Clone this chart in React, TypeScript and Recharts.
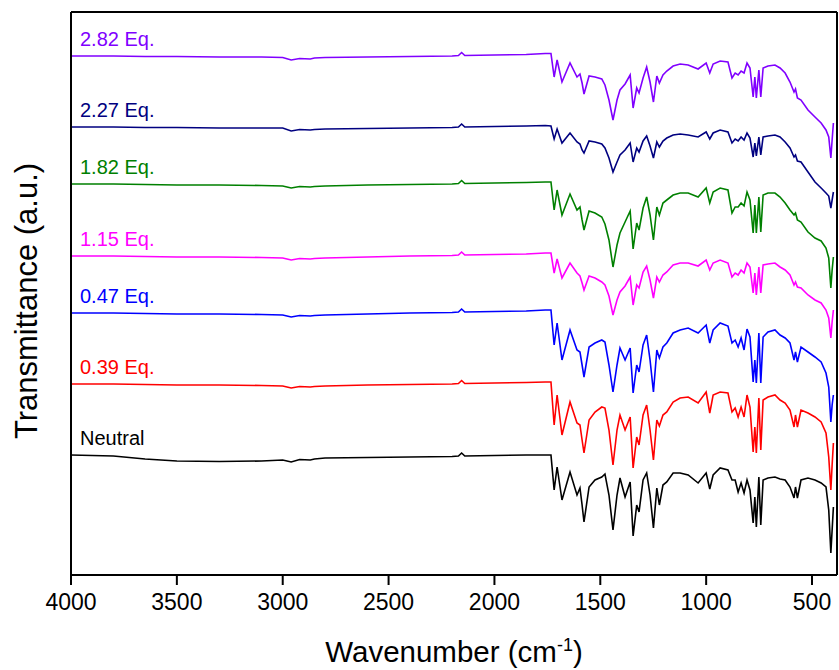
import { LineChart, Line, XAxis, YAxis, ReferenceLine } from "recharts";

// wavenumber grid (cm-1), shared by all spectra
const wavenumbers = [
  4000, 3800, 3650, 3500, 3300, 3100, 3000, 2960, 2920, 2870, 2850, 2800, 2600, 2400, 2200, 2170, 2155, 2140, 2000, 1850, 1760,
  1733, 1718, 1704, 1681, 1643, 1610, 1596, 1586, 1577, 1553, 1525, 1493, 1478, 1459, 1440, 1421, 1407, 1383, 1359, 1345,
  1328, 1317, 1298, 1281, 1265, 1249, 1233, 1221, 1204, 1186, 1156, 1123, 1085, 1038, 1000, 983, 967, 934, 897, 878,
  863, 849, 835, 821, 807, 793, 778, 770, 763, 751, 742, 731, 708, 675, 651, 627, 604, 585, 578, 569,
  552, 519, 486, 457, 434, 421, 411, 405, 399,
];

// stacked transmittance (a.u., offset per spectrum)
const neutral = [
  145, 144, 141, 139, 138.5, 139, 140, 138, 140.5, 140, 141, 142, 142.5, 143, 143.5, 144, 147, 144, 144.5, 145, 145,
  145, 110, 133, 100, 128, 105, 112, 95, 78, 113, 120, 123, 126, 105, 70, 105, 122, 103, 118, 64,
  95, 88, 120, 127, 105, 72, 112, 95, 115, 118, 127, 127, 125, 117, 127, 111, 125, 132, 130, 120,
  120, 108, 117, 107, 120, 110, 77, 103, 73, 123, 75, 120, 122, 123, 121, 120, 113, 102, 113, 102,
  120, 122, 120, 117, 113, 90, 47, 70, 93,
];
const eq039 = [
  216, 216, 215.5, 215, 215, 214.5, 214, 212, 213.5, 213, 213.5, 214, 215, 215.5, 216, 216.5, 219.5, 216.5, 217, 217.5, 218,
  218, 175, 205, 165, 198, 177, 175, 160, 147, 180, 188, 193, 192, 170, 135, 170, 185, 170, 183, 132,
  163, 155, 185, 195, 170, 140, 180, 174, 185, 188, 198, 202, 203, 197, 208, 187, 205, 208, 207, 188,
  192, 183, 193, 183, 205, 193, 148, 173, 147, 202, 150, 200, 203, 205, 200, 197, 190, 173, 185, 173,
  190, 187, 183, 178, 167, 143, 110, 135, 157,
];
const eq047 = [
  287, 287, 286.5, 286, 286, 285.5, 285, 283, 284.5, 284, 284.5, 285, 286, 287, 287.5, 288, 291, 288, 288.5, 289, 290,
  290, 255, 277, 240, 270, 250, 248, 235, 223, 253, 257, 260, 258, 235, 208, 235, 252, 240, 252, 207,
  235, 228, 255, 265, 240, 208, 250, 242, 253, 257, 267, 270, 272, 267, 275, 257, 270, 277, 274, 257,
  260, 253, 262, 250, 271, 263, 218, 240, 217, 267, 217, 263, 268, 270, 265, 262, 257, 240, 248, 238,
  253, 248, 243, 238, 227, 213, 178, 195, 205,
];
const eq115 = [
  344, 344, 343.5, 343, 343, 342.5, 342, 340, 341.5, 341, 341.5, 342, 343, 344, 344.5, 345, 348, 345, 345.5, 346, 347,
  347, 327, 341, 322, 337, 327, 324, 317, 310, 324, 322, 318, 315, 304, 285, 300, 308, 314, 323, 295,
  315, 312, 328, 334, 320, 302, 323, 318, 325, 328, 335, 337, 337, 334, 340, 330, 337, 340, 337, 323,
  327, 325, 330, 327, 337, 333, 307, 327, 305, 333, 307, 335, 336, 337, 333, 330, 325, 315, 318, 313,
  312, 305, 300, 297, 290, 282, 262, 278, 290,
];
const eq182 = [
  416, 416, 415.5, 415, 415, 414.5, 414, 412, 413.5, 413, 413.5, 414, 415, 415.5, 416, 416.5, 419.5, 416.5, 417, 417.5, 418,
  418, 390, 410, 385, 406, 390, 393, 380, 370, 389, 387, 383, 376, 360, 333, 355, 367, 378, 389, 351,
  377, 370, 392, 403, 385, 360, 393, 385, 397, 400, 405, 407, 407, 403, 412, 397, 408, 412, 410, 387,
  393, 393, 397, 394, 408, 400, 367, 395, 367, 403, 368, 405, 407, 407, 403, 397, 390, 385, 387, 380,
  378, 368, 362, 359, 352, 342, 312, 330, 343,
];
const eq227 = [
  473, 473, 472.5, 472.5, 472, 472, 472, 469, 470.5, 470, 470.5, 471, 471.5, 472, 472.5, 473, 476, 473, 473.5, 474, 474.5,
  474, 461, 471, 457, 467, 458, 456, 450, 447, 459, 458, 456, 452, 442, 428, 438, 445, 450, 457, 438,
  452, 448, 459, 464, 454, 442, 458, 453, 459, 462, 465, 466, 465, 463, 468, 461, 467, 470, 468, 457,
  461, 459, 463, 460, 467, 462, 443, 457, 444, 463, 445, 463, 464, 465, 463, 458, 452, 443, 445, 439,
  438, 428, 418, 412, 407, 404, 392, 400, 408,
];
const eq282 = [
  544, 544, 543.5, 543.5, 543, 543, 542.5, 540, 541.5, 541, 542, 542.5, 543, 543.5, 544, 544.5, 547.5, 544.5, 545, 545.5, 546.5,
  546.5, 523, 540, 518, 537, 523, 526, 517, 506, 524, 523, 521, 515, 500, 480, 500, 510, 516, 525, 492,
  512, 507, 522, 533, 518, 498, 524, 517, 525, 529, 534, 536, 535, 531, 537, 527, 536, 539, 538, 522,
  527, 525, 529, 527, 537, 532, 503, 523, 502, 530, 503, 532, 534, 535, 532, 527, 518, 508, 511, 502,
  500, 490, 483, 477, 470, 463, 442, 460, 477,
];

const xTicks = [4000, 3500, 3000, 2500, 2000, 1500, 1000, 500];

const series = [
  { key: "eq282", name: "2.82 Eq.", color: "#8000FF", values: eq282 },
  { key: "eq227", name: "2.27 Eq.", color: "#000080", values: eq227 },
  { key: "eq182", name: "1.82 Eq.", color: "#008000", values: eq182 },
  { key: "eq115", name: "1.15 Eq.", color: "#FF00FF", values: eq115 },
  { key: "eq047", name: "0.47 Eq.", color: "#0000FF", values: eq047 },
  { key: "eq039", name: "0.39 Eq.", color: "#FF0000", values: eq039 },
  { key: "neutral", name: "Neutral", color: "#000000", values: neutral },
];

const data = wavenumbers.map((w, i) => {
  const row: Record<string, number> = { w };
  series.forEach((s) => (row[s.key] = s.values[i]));
  return row;
});

const FONT = "Arial, 'Liberation Sans', sans-serif";

export default function App() {
  return (
    <div style={{ position: "absolute", left: 0, top: 0, background: "#fff", fontFamily: FONT }}>
      <LineChart width={839} height={670} data={data} margin={{ top: 12, right: 2, bottom: 0, left: 0 }}>
        <XAxis
          dataKey="w"
          type="number"
          domain={[382, 4000]}
          reversed
          allowDataOverflow
          ticks={xTicks}
          height={95}
          axisLine={{ stroke: "#000", strokeWidth: 2 }}
          tickLine={{ stroke: "#000", strokeWidth: 2 }}
          tickSize={10}
          tickMargin={9}
          tick={{ fill: "#000", fontSize: 23 }}
          label={{
            content: (p: any) => {
              const vb = p.viewBox || { x: 71, width: 766, y: 575 };
              return (
                <text x={vb.x + vb.width / 2} y={662} textAnchor="middle" fontSize={29.5} fill="#000">
                  Wavenumber (cm<tspan dy={-11} fontSize={18}>-1</tspan>
                  <tspan dy={11}>)</tspan>
                </text>
              );
            },
          }}
        />
        <YAxis
          type="number"
          domain={[25, 588]}
          allowDataOverflow
          width={71}
          tick={false}
          tickLine={false}
          axisLine={{ stroke: "#000", strokeWidth: 2 }}
          label={{
            content: () => (
              <text x={37} y={301} transform="rotate(-90 37 301)" textAnchor="middle" fontSize={31} fill="#000">
                Transmittance (a.u.)
              </text>
            ),
          }}
        />
        <ReferenceLine y={588} stroke="#000" strokeWidth={2} ifOverflow="extendDomain" />
        <ReferenceLine x={382} stroke="#000" strokeWidth={2} ifOverflow="extendDomain" />
        {series.map((s) => (
          <Line
            key={s.key}
            dataKey={s.key}
            type="linear"
            stroke={s.color}
            strokeWidth={1.6}
            dot={false}
            isAnimationActive={false}
            label={(p: any) =>
              p.index === 0 ? (
                <text key={s.key + "-lbl"} x={p.x + 9} y={p.y - 10} fill={s.color} fontSize={20}>
                  {s.name}
                </text>
              ) : null
            }
          />
        ))}
      </LineChart>
    </div>
  );
}
